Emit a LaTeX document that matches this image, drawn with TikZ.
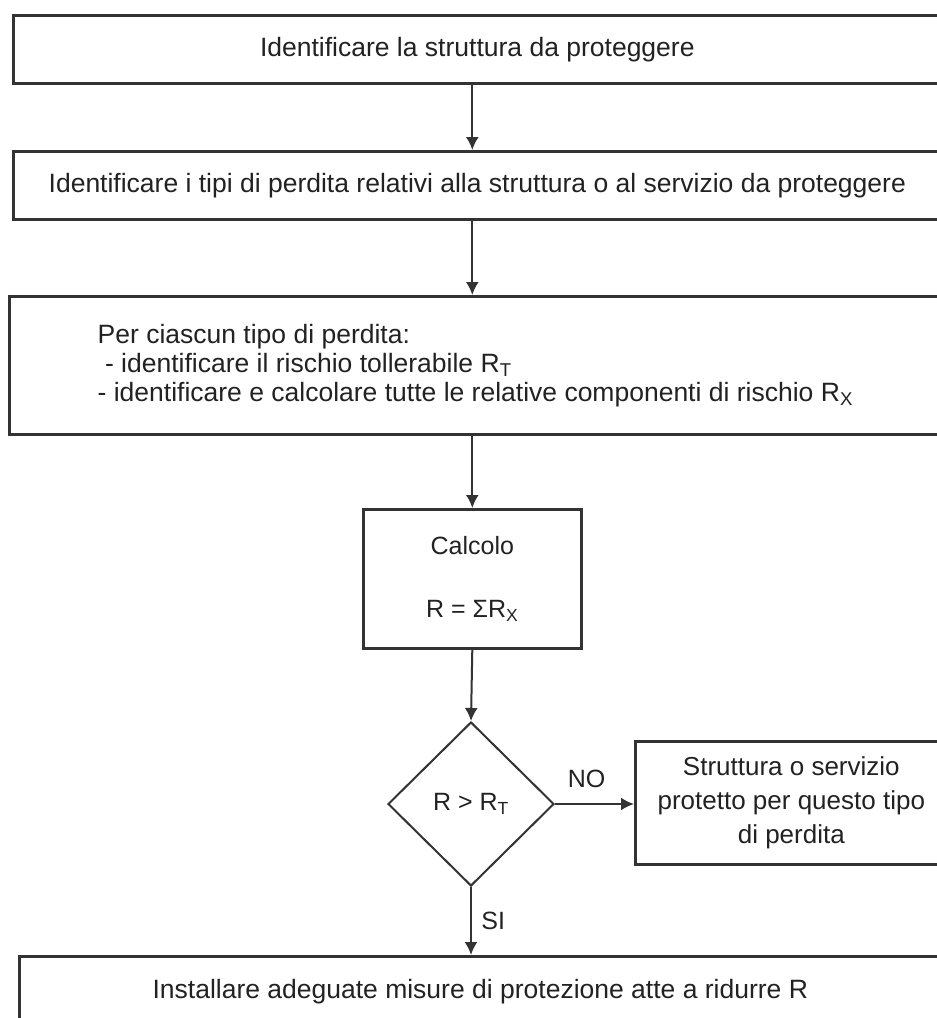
\documentclass[tikz,border=0pt]{standalone}
\usepackage{fontspec}
\setmainfont{Liberation Sans}
\usetikzlibrary{shapes.geometric,arrows.meta}
\definecolor{ln}{HTML}{333333}
\definecolor{tx}{HTML}{222222}
\tikzset{
  box/.style={draw=ln, line width=2.6pt, fill=white, inner sep=0pt, anchor=north west, text=tx, font=\fontsize{26.5}{29}\selectfont},
  dec/.style={draw=ln, line width=2pt, diamond, aspect=1, inner sep=0pt, minimum width=166pt, minimum height=164pt, text=tx, font=\fontsize{25}{28}\selectfont},
  arr/.style={draw=ln, line width=2pt, -{Latex[length=13pt,width=13pt]}},
  lab/.style={text=tx, font=\fontsize{25}{28}\selectfont}
}
\begin{document}
\begin{tikzpicture}[x=1pt,y=-1pt]
\useasboundingbox (0,0) rectangle (937,1018);
\clip (0,0) rectangle (937,1018);
\fill[white] (0,0) rectangle (937,1018);
\node[box, minimum width=928pt, minimum height=68pt] (b1) at (12,14) {Identificare la struttura da proteggere};
\node[box, minimum width=928pt, minimum height=68pt] (b2) at (12,150) {Identificare i tipi di perdita relativi alla struttura o al servizio da proteggere};
\node[box, minimum width=932pt, minimum height=138pt, align=left] (b3) at (8,295) {Per ciascun tipo di perdita:\\
\ - identificare il rischio tollerabile R\textsubscript{T}\\
- identificare e calcolare tutte le relative componenti di rischio R\textsubscript{X}};
\node[box, minimum width=218pt, minimum height=139pt, align=center, font=\fontsize{25}{63}\selectfont] (calc) at (362,508) {Calcolo\\R = ΣR\textsubscript{X}};
\node[dec] (dia) at (471,804) {R > R\textsubscript{T}};
\node[box, minimum width=312pt, minimum height=123pt, align=center, font=\fontsize{26}{34}\selectfont] (prot) at (634,740) {Struttura o servizio\\protetto per questo tipo\\di perdita};
\node[box, minimum width=922pt, minimum height=71pt] (b4) at (18,955) {Installare adeguate misure di protezione atte a ridurre R};
\draw[arr] (b1.south -| calc.north) -- (b2.north -| calc.north);
\draw[arr] (b2.south -| calc.north) -- (b3.north -| calc.north);
\draw[arr] (b3.south -| calc.north) -- (calc.north);
\draw[arr] (calc.south) -- (dia.north);
\draw[arr] (dia.east) -- (prot.west |- dia.east) node[lab, pos=0.4, above=12pt] (no) {NO};
\draw[arr] (dia.south) -- (b4.north -| dia.south) node[lab, midway, right=6pt] (si) {SI};
\end{tikzpicture}
\end{document}
